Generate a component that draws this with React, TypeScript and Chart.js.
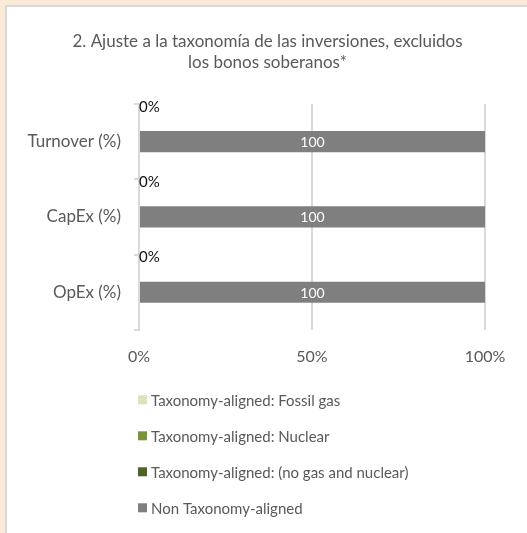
import React, { useEffect, useRef } from "react";
import { Chart, registerables } from "chart.js";

Chart.register(...registerables);

const titleLines = [
  "2. Ajuste a la taxonomía de las inversiones, excluidos",
  "los bonos soberanos*",
];
const categories = ["Turnover (%)", "CapEx (%)", "OpEx (%)"];
const seriesNames = [
  "Taxonomy-aligned: Fossil gas",
  "Taxonomy-aligned: Nuclear",
  "Taxonomy-aligned: (no gas and nuclear)",
  "Non Taxonomy-aligned",
];
const seriesColors = ["#d7e4bd", "#77933c", "#4f6228", "#7f7f7f"];
const fossilGas = [0, 0, 0];
const nuclear = [0, 0, 0];
const noGasNuclear = [0, 0, 0];
const nonAligned = [100, 100, 100];
const xTicks = [0, 50, 100];

const FONT = "Lato";
const TEXT = "#595959";

const labelsPlugin = {
  id: "customLabels",
  afterLayout(chart: any) {
    // centre the title over the white panel rather than the padded box
    if (chart.titleBlock) chart.titleBlock.left = 50;
  },
  afterDatasetsDraw(chart: any) {
    const ctx = chart.ctx;
    const xs = chart.scales.x;
    const ys = chart.scales.y;
    const band = ys.getPixelForValue(1) - ys.getPixelForValue(0);
    ctx.save();
    const meta = chart.getDatasetMeta(3);
    ctx.font = `14px ${FONT}`;
    ctx.fillStyle = "#ffffff";
    ctx.textAlign = "center";
    ctx.textBaseline = "middle";
    meta.data.forEach((el: any, i: number) => {
      const v = nonAligned[i];
      ctx.fillText(String(v), (el.x + el.base) / 2, el.y + 1);
    });
    ctx.fillStyle = "#111111";
    ctx.textAlign = "left";
    ctx.font = `15px ${FONT}`;
    noGasNuclear.forEach((v, i) => {
      const y = ys.getPixelForValue(i) - band / 2 + 3;
      ctx.fillText(v + "%", xs.getPixelForValue(v), y);
    });
    ctx.restore();
  },
  afterDraw(chart: any) {
    const ctx = chart.ctx;
    const area = chart.chartArea;
    ctx.save();
    ctx.font = `15px ${FONT}`;
    ctx.textBaseline = "middle";
    ctx.textAlign = "left";
    chart.data.datasets.forEach((ds: any, i: number) => {
      const y = area.bottom + 70 + i * 36;
      const x = area.left - 1;
      ctx.fillStyle = ds.backgroundColor;
      ctx.fillRect(x, y - 4.5, 9, 9);
      ctx.fillStyle = TEXT;
      ctx.fillText(ds.label, x + 13, y + 1);
    });
    ctx.restore();
  },
};

export default function App() {
  const ref = useRef<HTMLCanvasElement>(null);
  useEffect(() => {
    if (!ref.current) return;
    const values = [fossilGas, nuclear, noGasNuclear, nonAligned];
    const chart = new Chart(ref.current, {
      type: "bar",
      data: {
        labels: categories,
        datasets: seriesNames.map((name, i) => ({
          label: name,
          data: values[i],
          backgroundColor: seriesColors[i],
          borderWidth: 0,
          categoryPercentage: 1,
          barPercentage: 0.28,
        })),
      },
      options: {
        indexAxis: "y",
        responsive: false,
        animation: false,
        layout: { padding: { left: 0, right: 42, top: 0, bottom: 150 } },
        plugins: {
          legend: { display: false },
          tooltip: { enabled: false },
          title: {
            display: true,
            text: titleLines,
            color: TEXT,
            font: { family: FONT, size: 17, weight: "normal", lineHeight: 1.25 },
            padding: { top: 31, bottom: 30.5 },
          },
        },
        scales: {
          x: {
            stacked: true,
            min: 0,
            max: 100,
            afterBuildTicks: (s: any) => {
              s.ticks = xTicks.map((v) => ({ value: v }));
            },
            ticks: {
              callback: (v: any) => v + "%",
              color: TEXT,
              font: { family: FONT, size: 16 },
              padding: 17,
            },
            grid: { color: "#d9d9d9", lineWidth: 2, drawTicks: false },
            border: { display: false },
          },
          y: {
            stacked: true,
            afterFit: (s: any) => {
              s.width = 139;
            },
            ticks: {
              color: TEXT,
              font: { family: FONT, size: 17 },
              padding: 13,
            },
            grid: {
              color: "#d9d9d9",
              lineWidth: 2,
              drawOnChartArea: false,
              tickLength: 5,
              offset: true,
            },
            border: { display: true, color: "#d9d9d9", width: 2 },
          },
        },
      },
      plugins: [labelsPlugin],
    });
    return () => chart.destroy();
  }, []);

  return (
    <div
      style={{
        position: "fixed",
        left: 0,
        top: 0,
        width: 527,
        height: 533,
        background: "#fbe9d9",
        overflow: "hidden",
      }}
    >
      <div
        style={{
          position: "absolute",
          left: 5,
          top: 5,
          right: 0,
          bottom: 0,
          background: "#ffffff",
          borderLeft: "2px solid #d9d9d9",
          borderTop: "2px solid #d9d9d9",
        }}
      />
      <canvas
        ref={ref}
        width={527}
        height={533}
        style={{ position: "absolute", left: 0, top: 0 }}
      />
    </div>
  );
}
